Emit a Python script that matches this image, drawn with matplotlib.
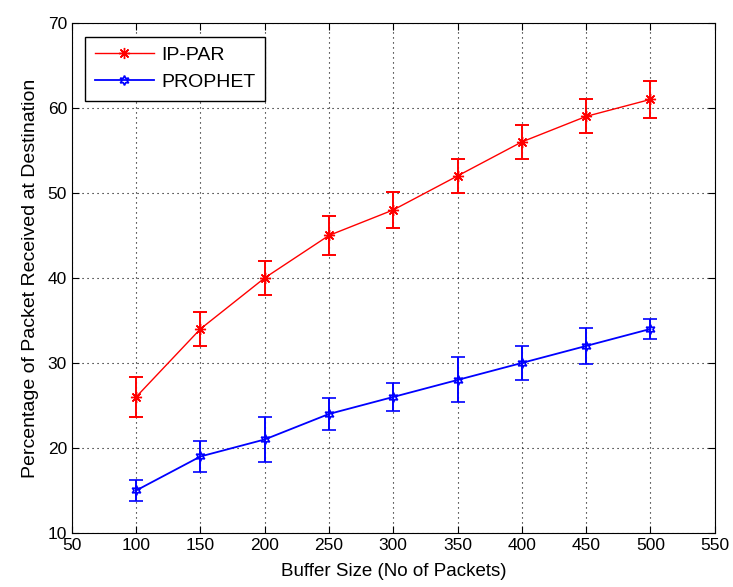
import matplotlib
matplotlib.use('Agg')
import matplotlib.pyplot as plt
from matplotlib.lines import Line2D
import numpy as np

plt.rcParams['font.family'] = ['Liberation Sans', 'DejaVu Sans']

buffer_size = [100, 150, 200, 250, 300, 350, 400, 450, 500]
ip_par = [26, 34, 40, 45, 48, 52, 56, 59, 61]
ip_par_err = [2.35, 2.0, 2.0, 2.3, 2.1, 2.0, 2.0, 2.0, 2.2]
prophet = [15, 19, 21, 24, 26, 28, 30, 32, 34]
prophet_err = [1.2, 1.8, 2.6, 1.9, 1.65, 2.65, 2.0, 2.1, 1.2]

fig = plt.figure(figsize=(7.33, 5.87), dpi=100)
ax = fig.add_axes([0.098, 0.092, 0.877, 0.869])

red_style = dict(color='red', lw=1, marker=(8, 2, 0), markersize=8)
blue_style = dict(color='blue', lw=1.3, marker=(6, 1, 0), markersize=7,
                  markerfacecolor='none', markeredgewidth=1.2)

ax.errorbar(buffer_size, ip_par, yerr=ip_par_err, capsize=5,
            elinewidth=1.4, capthick=1.4, **red_style)
ax.errorbar(buffer_size, prophet, yerr=prophet_err, capsize=5,
            elinewidth=1.4, capthick=1.4, **blue_style)

ax.set_xlim(50, 550)
ax.set_ylim(10, 70)
ax.set_xticks(np.arange(50, 551, 50))
ax.set_yticks(np.arange(10, 71, 10))
ax.grid(True, linestyle=(0, (1, 3.5)), color='black', lw=0.8)
ax.tick_params(direction='in', labelsize=12.5, top=True, right=True, length=5)
ax.set_xlabel('Buffer Size (No of Packets)', fontsize=13.5, labelpad=7)
ax.set_ylabel('Percentage of Packet Received at Destination', fontsize=14,
              labelpad=6)

handles = [Line2D([], [], **red_style), Line2D([], [], **blue_style)]
leg = ax.legend(handles, ['IP-PAR', 'PROPHET'], loc='upper left',
                fontsize=14, fancybox=False, edgecolor='black',
                framealpha=1, handlelength=3.0, borderaxespad=0.7,
                borderpad=0.5, labelspacing=0.5, handletextpad=0.4)
leg.get_frame().set_linewidth(1)

fig.savefig('out.png', dpi=100)
